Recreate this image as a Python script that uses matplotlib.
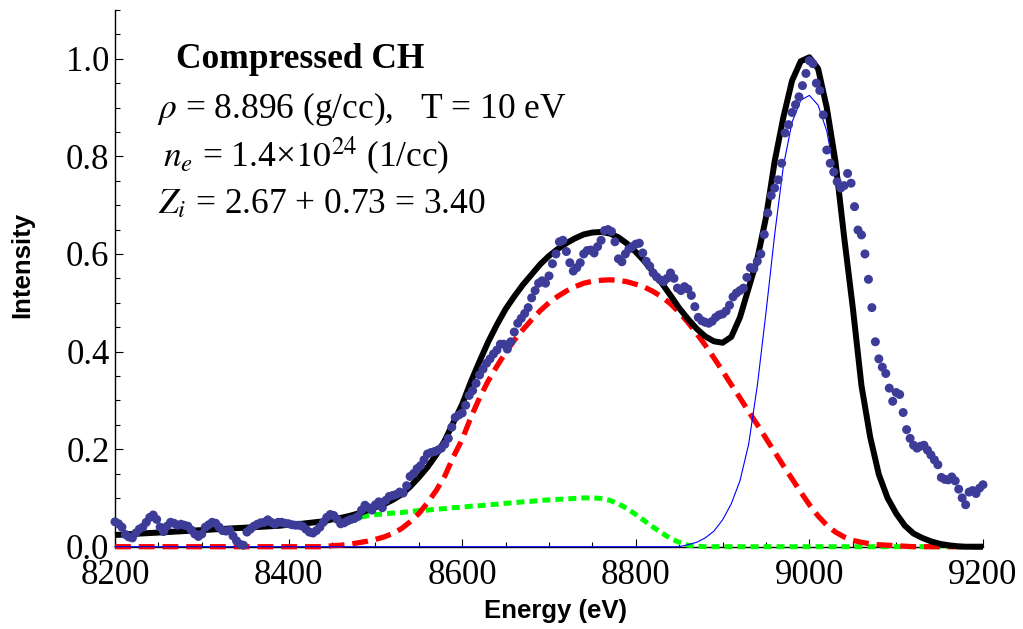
import numpy as np
import matplotlib.pyplot as plt
from matplotlib.ticker import MultipleLocator, FormatStrFormatter

plt.rcParams['mathtext.fontset'] = 'stix'
plt.rcParams['font.family'] = ['Liberation Serif', 'DejaVu Serif']

# measured spectrum, one point every 4 eV from 8200 to 9200 eV
dot_energy = np.arange(8200, 9201, 4)
dot_intensity = [
    0.051, 0.047, 0.040, 0.025, 0.020, 0.018, 0.028, 0.036, 0.040, 0.050,  # 8200
    0.060, 0.065, 0.056, 0.040, 0.031, 0.042, 0.050, 0.048, 0.044, 0.046,  # 8240
    0.044, 0.042, 0.034, 0.026, 0.021, 0.026, 0.040, 0.045, 0.050, 0.048,  # 8280
    0.040, 0.033, 0.032, 0.034, 0.022, 0.012, 0.005, 0.003, 0.030, 0.036,  # 8320
    0.042, 0.046, 0.049, 0.050, 0.055, 0.050, 0.046, 0.050, 0.050, 0.048,  # 8360
    0.047, 0.045, 0.044, 0.044, 0.042, 0.036, 0.030, 0.028, 0.033, 0.040,  # 8400
    0.050, 0.060, 0.066, 0.064, 0.056, 0.047, 0.049, 0.053, 0.056, 0.058,  # 8440
    0.062, 0.075, 0.085, 0.080, 0.075, 0.086, 0.092, 0.080, 0.095, 0.103,  # 8480
    0.105, 0.107, 0.112, 0.110, 0.125, 0.144, 0.150, 0.160, 0.166, 0.178,  # 8520
    0.190, 0.193, 0.195, 0.198, 0.202, 0.210, 0.222, 0.245, 0.265, 0.270,  # 8560
    0.274, 0.290, 0.310, 0.320, 0.335, 0.352, 0.364, 0.376, 0.385, 0.395,  # 8600
    0.403, 0.415, 0.415, 0.405, 0.420, 0.440, 0.458, 0.468, 0.478, 0.490,  # 8640
    0.510, 0.525, 0.540, 0.545, 0.540, 0.555, 0.580, 0.600, 0.625, 0.628,  # 8680
    0.605, 0.582, 0.565, 0.572, 0.582, 0.600, 0.607, 0.608, 0.602, 0.615,  # 8720
    0.628, 0.648, 0.650, 0.646, 0.625, 0.590, 0.584, 0.600, 0.610, 0.615,  # 8760
    0.620, 0.622, 0.602, 0.585, 0.575, 0.561, 0.553, 0.547, 0.543, 0.550,  # 8800
    0.561, 0.550, 0.530, 0.525, 0.533, 0.528, 0.515, 0.492, 0.470, 0.463,  # 8840
    0.460, 0.458, 0.462, 0.470, 0.475, 0.477, 0.483, 0.495, 0.512, 0.520,  # 8880
    0.525, 0.530, 0.552, 0.572, 0.570, 0.585, 0.600, 0.640, 0.684, 0.720,  # 8920
    0.735, 0.752, 0.786, 0.848, 0.865, 0.890, 0.906, 0.922, 0.945, 0.970,  # 8960
    0.996, 0.990, 0.950, 0.935, 0.885, 0.813, 0.786, 0.768, 0.748, 0.735,  # 9000
    0.740, 0.765, 0.745, 0.697, 0.649, 0.639, 0.600, 0.548, 0.490, 0.420,  # 9040
    0.385, 0.368, 0.355, 0.325, 0.298, 0.316, 0.312, 0.275, 0.240, 0.222,  # 9080
    0.208, 0.202, 0.206, 0.208, 0.198, 0.188, 0.178, 0.168, 0.142, 0.138,  # 9120
    0.137, 0.143, 0.135, 0.118, 0.100, 0.086, 0.112, 0.115, 0.109, 0.120,  # 9160
    0.127,                                                                 # 9200
]

# model curves, one value every 10 eV from 8200 to 9200 eV
curve_energy = np.arange(8200, 9201, 10)

total_fit = [
    0.024, 0.025, 0.026, 0.027, 0.028, 0.029, 0.030, 0.031, 0.032, 0.033,  # 8200
    0.034, 0.035, 0.036, 0.037, 0.038, 0.039, 0.040, 0.041, 0.042, 0.043,  # 8300
    0.045, 0.046, 0.048, 0.050, 0.052, 0.056, 0.059, 0.063, 0.068, 0.074,  # 8400
    0.081, 0.087, 0.096, 0.107, 0.123, 0.142, 0.163, 0.188, 0.218, 0.255,  # 8500
    0.292, 0.338, 0.380, 0.420, 0.455, 0.487, 0.513, 0.537, 0.558, 0.579,  # 8600
    0.596, 0.610, 0.622, 0.632, 0.640, 0.644, 0.645, 0.642, 0.634, 0.621,  # 8700
    0.604, 0.585, 0.563, 0.540, 0.515, 0.489, 0.467, 0.447, 0.431, 0.421,  # 8800
    0.418, 0.430, 0.470, 0.530, 0.590, 0.675, 0.790, 0.880, 0.955, 0.995,  # 8900
    1.003, 0.980, 0.900, 0.790, 0.635, 0.490, 0.330, 0.225, 0.148, 0.100,  # 9000
    0.068, 0.043, 0.027, 0.018, 0.011, 0.006, 0.003, 0.001, 0.000, 0.000,  # 9100
    0.000,                                                                 # 9200
]

broad_part = (
    [0.0] * 25 +  # 8200-8440
    [0.002, 0.003, 0.005, 0.008, 0.011,                                    # 8450
     0.015, 0.020, 0.027, 0.037, 0.051, 0.068, 0.090, 0.115, 0.145, 0.185,  # 8500
     0.220, 0.265, 0.305, 0.340, 0.370, 0.398, 0.423, 0.445, 0.465, 0.484,  # 8600
     0.500, 0.513, 0.524, 0.533, 0.540, 0.544, 0.546, 0.547, 0.546, 0.543,  # 8700
     0.538, 0.532, 0.523, 0.512, 0.498, 0.480, 0.460, 0.437, 0.413, 0.387,  # 8800
     0.360, 0.332, 0.305, 0.277, 0.250, 0.222, 0.194, 0.166, 0.139, 0.112,  # 8900
     0.086, 0.063, 0.044, 0.030, 0.020, 0.013, 0.009, 0.006, 0.004, 0.003,  # 9000
     0.002, 0.001] +                                                        # 9100
    [0.0] * 9     # 9120-9200
)

bound_part = (
    [0.024, 0.025, 0.026, 0.027, 0.028, 0.029, 0.030, 0.031, 0.032, 0.033,  # 8200
     0.034, 0.035, 0.036, 0.037, 0.038, 0.039, 0.040, 0.041, 0.042, 0.043,  # 8300
     0.045, 0.046, 0.048, 0.050, 0.052, 0.054, 0.056, 0.058, 0.060, 0.063,  # 8400
     0.066, 0.067, 0.069, 0.070, 0.072, 0.074, 0.075, 0.077, 0.078, 0.080,  # 8500
     0.081, 0.083, 0.084, 0.086, 0.087, 0.089, 0.090, 0.092, 0.093, 0.095,  # 8600
     0.096, 0.097, 0.098, 0.099, 0.100, 0.100, 0.099, 0.095, 0.088, 0.078,  # 8700
     0.066, 0.053, 0.040, 0.028, 0.017, 0.009, 0.003, 0.001] +              # 8800
    [0.0] * 33    # 8880-9200
)

elastic_part = (
    [0.0] * 66 +  # 8200-8850
    [0.004, 0.009, 0.018, 0.032,                                            # 8860
     0.055, 0.088, 0.135, 0.210, 0.330, 0.480, 0.640, 0.780, 0.870, 0.915,  # 8900
     0.925, 0.905, 0.852, 0.756, 0.612, 0.474, 0.319, 0.217, 0.143, 0.096,  # 9000
     0.065, 0.041, 0.026, 0.017, 0.010, 0.005, 0.002, 0.001] +              # 9100
    [0.0] * 3     # 9180-9200
)

fig = plt.figure(figsize=(10.23, 6.29), dpi=100)
ax = fig.add_axes([115 / 1023, 1 - 546.7 / 629, 868 / 1023, 536.7 / 629])

ax.plot(curve_energy, bound_part, color='#00ff00', lw=3.6, dashes=(1.6, 1.0),
        zorder=3, clip_on=False)
ax.plot(curve_energy, broad_part, color='#ff0000', lw=3.8, dashes=(3.0, 1.5),
        zorder=4, clip_on=False)
ax.plot(curve_energy, elastic_part, color='#0000ff', lw=0.8, zorder=5, clip_on=False)
ax.plot(curve_energy, total_fit, color='black', lw=4.3, zorder=6, clip_on=False,
        solid_capstyle='butt')
ax.scatter(dot_energy, dot_intensity, s=42, color='#3d3d99', edgecolors='none',
           zorder=7, clip_on=False)

ax.set_xlim(8200, 9200)
ax.set_ylim(0, 1.1)
ax.spines['top'].set_visible(False)
ax.spines['right'].set_visible(False)
ax.spines['left'].set_linewidth(1.0)
ax.spines['bottom'].set_linewidth(1.0)

ax.xaxis.set_major_locator(MultipleLocator(200))
ax.xaxis.set_minor_locator(MultipleLocator(50))
ax.yaxis.set_major_locator(MultipleLocator(0.2))
ax.yaxis.set_minor_locator(MultipleLocator(0.05))
ax.yaxis.set_major_formatter(FormatStrFormatter('%.1f'))
ax.tick_params(which='both', direction='in', width=0.8, labelsize=25)
ax.tick_params(which='major', length=6)
ax.tick_params(which='minor', length=3.5)
ax.tick_params(axis='x', pad=9)
ax.tick_params(axis='y', pad=4)

ax.set_xlabel('Energy (eV)', family='Liberation Sans', fontweight='bold', fontsize=18.5)
ax.xaxis.label.set_va('baseline')
ax.xaxis.set_label_coords(0.507, -0.133)
ax.set_ylabel('Intensity', family='Liberation Sans', fontweight='bold', fontsize=18.5)
ax.yaxis.label.set_va('center')
ax.yaxis.set_label_coords(-0.107, 0.525)

ax.text(8270, 0.982, 'Compressed CH', fontsize=25.5, fontweight='bold', va='baseline')
ax.text(8248, 0.879, r'$\rho$ = 8.896 (g/cc),   T = 10 eV', fontsize=25.5, va='baseline')
ax.text(8255, 0.778, r'$n_e$ = 1.4×$10^{24}$ (1/cc)', fontsize=25.5, va='baseline')
ax.text(8250, 0.684, r'$Z_i$ = 2.67 + 0.73 = 3.40', fontsize=25.5, va='baseline')

fig.savefig('out.png', dpi=100)
